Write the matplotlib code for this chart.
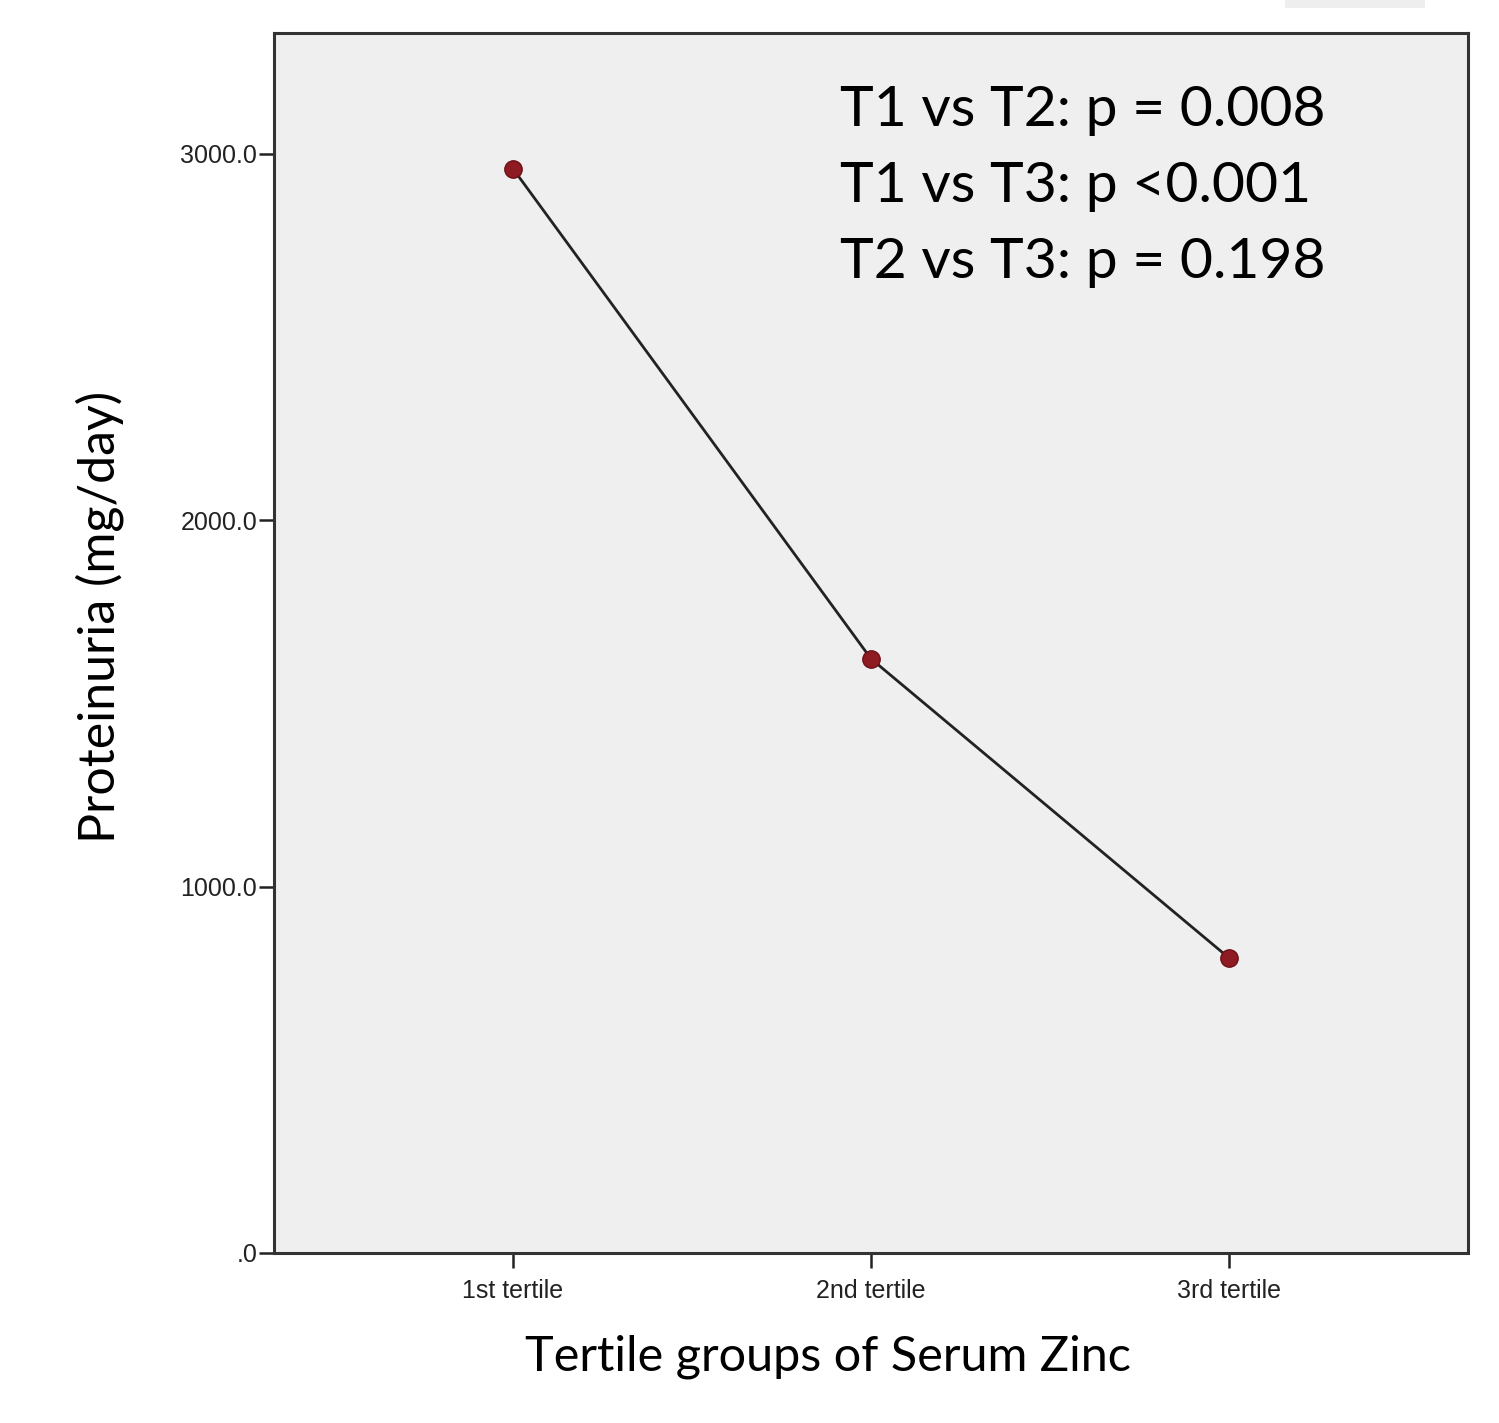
import matplotlib
matplotlib.use('Agg')
import matplotlib.pyplot as plt
from matplotlib.patches import Rectangle


# data
groups = ['1st tertile', '2nd tertile', '3rd tertile']
proteinuria = [2960, 1622, 805]
yticks = [0, 1000, 2000, 3000]
ytick_labels = ['.0', '1000.0', '2000.0', '3000.0']
pvals = ['T1 vs T2: p = 0.008', 'T1 vs T3: p <0.001', 'T2 vs T3: p = 0.198']

W, H = 1499, 1423
fig = plt.figure(figsize=(W / 100, H / 100), dpi=100)
ax = fig.add_axes([274 / W, 1 - 1253 / H, 1194 / W, 1220 / H])
ax.set_facecolor('#efefef')

x = list(range(len(groups)))
ax.plot(x, proteinuria, color='#222222', lw=2, zorder=2)
ax.plot(x, proteinuria, 'o', color='#8e1b22', ms=12.5, mec='#6e1018', mew=1, zorder=3)

ax.set_xlim(-0.667, 2.667)
ax.set_ylim(0, 3330)

tick_font = ['Liberation Sans', 'DejaVu Sans']
ax.set_xticks(x)
ax.set_xticklabels(groups, family=tick_font, fontsize=18, color='#222222')
ax.set_yticks(yticks)
ax.set_yticklabels(ytick_labels, family=tick_font, fontsize=18, color='#222222')
ax.tick_params(axis='both', length=11, width=1.8, color='#222222', pad=1)
ax.tick_params(axis='x', pad=8)

for s in ax.spines.values():
    s.set_linewidth(2.2)
    s.set_color('#333333')

txt_font = ['Lato', 'DejaVu Sans']
for i, t in enumerate(pvals):
    fig.text(840 / W, 1 - (110 + 76 * i) / H, t, family=txt_font, fontsize=41,
             va='center', ha='left', color='black')

fig.text(828 / W, 1 - 1357 / H, 'Tertile groups of Serum Zinc', family=txt_font,
         fontsize=35, ha='center', va='center')
fig.text(100 / W, 1 - 617 / H, 'Proteinuria (mg/day)', family=txt_font,
         fontsize=36, ha='center', va='center', rotation=90)

# faint grey strip at the top edge of the original slide
fig.patches.append(Rectangle((1285 / W, 1 - 8 / H), 140 / W, 8 / H,
                             transform=fig.transFigure, color='#eeeeee', lw=0))

fig.savefig('out.png', dpi=100)
